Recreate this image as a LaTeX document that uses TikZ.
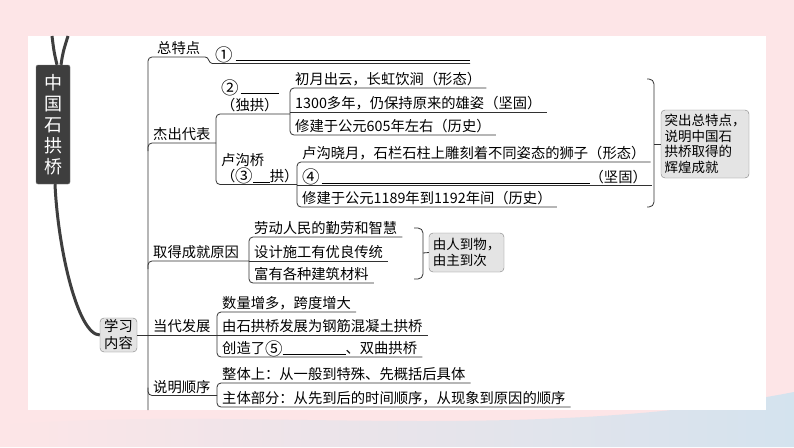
\documentclass[tikz,border=0pt]{standalone}
\usepackage{fontspec}
\usepackage{graphicx}
\setmainfont{Noto Sans CJK SC}
\usetikzlibrary{calc,positioning}
\definecolor{fondrose}{RGB}{253,229,231}
\definecolor{fondbleu}{RGB}{212,227,238}
\definecolor{trait}{RGB}{50,50,50}
\definecolor{gristitre}{RGB}{62,62,62}
\definecolor{grisclair}{RGB}{228,228,228}
\newcommand\trou[1]{\rule[-1pt]{#1}{0.6pt}} % ligne a remplir
\newcommand\rond[1]{\raisebox{-1.2pt}{\scalebox{1.22}{#1}}} % numero cercle

\begin{document}
\begin{tikzpicture}[x=1pt,y=-1pt]
% styles de la carte
\tikzset{liaison/.style={draw=trait,line width=0.8pt},
crochet/.style={liaison,rounded corners=4pt},
tronc/.style={draw=gristitre,line width=3pt},
item/.style={anchor=south west,inner xsep=5pt,inner ysep=0pt,text height=11pt,text depth=3pt,font=\fontsize{14.3}{17}\selectfont},
cadre/.style={draw=gray,fill=grisclair,rounded corners=4pt,align=left,inner sep=3pt,font=\fontsize{13.5}{15.7}\selectfont}}
\useasboundingbox (0,0) rectangle (794,447);

% fond
\fill[fondrose] (0,0) rectangle (794,447);
\shade[left color=fondrose, right color=fondbleu] (0,447) -- (0,425) .. controls (250,405) and (520,445) .. (794,392) -- (794,447) -- cycle;
\fill[white] (28,36) rectangle (766,410);

% titre et tronc
\node[fill=gristitre,draw=gristitre!70,rounded corners=2pt,text=white,align=center,minimum width=34pt,minimum height=119pt,inner sep=0pt,font=\fontsize{18}{21}\selectfont] (titre) at (53,124.5) {中\\国\\石\\拱\\桥};
\node[cadre,align=center,minimum width=37pt,minimum height=34pt,inner sep=1pt,font=\fontsize{14.3}{17}\selectfont] (contenu) at (118.5,335) {学习\\内容};
\coordinate (haut1) at (52,36);
\coordinate (haut2) at (68,36);
\coordinate (dos) at (148,410);
\draw[tronc] (haut1) .. controls (54,52) .. ($(titre.north)+(4,0)$);
\draw[tronc] (haut2) .. controls (63,52) .. ($(titre.north)+(8,0)$);
\draw[tronc] ($(titre.south)+(2,0)$) .. controls (58,250) and (78,335) .. (contenu.west);

%总特点
\node[item] (zong) at (152,57) {总特点};
\node[item] (un) at (210,63) {\rond{①}\hspace{3pt}\trou{234pt}};
\coordinate (unfin) at (470,63.5);
\draw[crochet] (dos) -- (dos |- zong.south) -- (zong.south east);
\draw[liaison] (zong.south east) to[out=0,in=180] ++(7,6.5) -- (unfin);

% 杰出代表
\node[item] (jiechu) at (148,143) {杰出代表};
\node[item] (zz1) at (216,96) {\rond{②}\hspace{2pt}\trou{38pt}};
\node[item] (zz2) at (216,114) {（独拱）};
\node[item] (lg1) at (216,169) {卢沟桥};
\node[item] (lg2) at (216,184.5) {（\rond{③}\trou{17pt}拱）};
\node[item] (a1) at (290,88) {初月出云，长虹饮涧（形态）};
\node[item] (a2) at (290,112) {1300多年，仍保持原来的雄姿（坚固）};
\node[item] (a3) at (290,135) {修建于公元605年左右（历史）};
\node[item] (b1) at (297,162) {卢沟晓月，石栏石柱上雕刻着不同姿态的狮子（形态）};
\node[item] (b2) at (297,185.5) {\rond{④}\hspace{2pt}\trou{268pt}（坚固）};
\node[item] (b3) at (297,207) {修建于公元1189年到1192年间（历史）};
\draw[crochet] (zz2.south west |- jiechu.south) -- (jiechu.south west) -- ++(0,8);
\draw[crochet] (a1.south west |- zz2.south) -- (zz2.south west) -- (lg2.south west) -- (b1.south west |- lg2.south);
\draw[crochet] (a1.south east) -- (a1.south west) -- (a3.south west) -- (a3.south east);
\draw[liaison] (a2.south west) -- (a2.south east);
\draw[crochet] (b1.south east) -- (b1.south west) -- (b3.south west) -- (b3.south east);
\draw[liaison] (b2.south west) -- (b2.south east);
\draw[crochet,rounded corners=5pt] (647,79) -- (654,79) -- (654,207) -- (647,207); % accolade
\coordinate (pointe1) at (654,144);
\node[cadre,minimum width=88pt,minimum height=68pt] (bilan) at (705,144) {突出总特点，\\说明中国石\\拱桥取得的\\辉煌成就};
\draw[liaison] (pointe1) -- (bilan.west);

% 取得成就原因
\node[item] (qd) at (148,261) {取得成就原因};
\node[item] (c1) at (249,237) {劳动人民的勤劳和智慧};
\node[item] (c2) at (249,261) {设计施工有优良传统};
\node[item] (c3) at (249,283) {富有各种建筑材料};
\draw[crochet] (c2.south west) -- (qd.south west) -- ++(0,8);
\draw[crochet] (c1.south east) -- (c1.south west) -- (c3.south west) -- (c3.south east);
\draw[liaison] (c2.south west) -- (c2.south east);
\draw[crochet,rounded corners=5pt] (414,228) -- (423,228) -- (423,279) -- (414,279); % accolade
\coordinate (pointe2) at (423,253);
\node[cadre,minimum width=75pt,minimum height=39pt] (ordre) at (466.5,252.5) {由人到物，\\由主到次};
\draw[liaison] (pointe2) -- (ordre.west);

% 当代发展
\node[item] (dd) at (148,335) {当代发展};
\node[item] (d1) at (217,312) {数量增多，跨度增大};
\node[item] (d2) at (217,335) {由石拱桥发展为钢筋混凝土拱桥};
\node[item] (d3) at (217,357) {创造了\rond{⑤}\trou{63pt}、双曲拱桥};
\draw[liaison] (contenu.east) -- (d2.south west);
\draw[crochet] (d1.south east) -- (d1.south west) -- (d3.south west) -- (d3.south east);
\draw[liaison] (d2.south west) -- (d2.south east);

% 说明顺序
\node[item] (sm) at (148,395.5) {说明顺序};
\node[item] (e1) at (217,383) {整体上：从一般到特殊、先概括后具体};
\node[item] (e2) at (217,407) {主体部分：从先到后的时间顺序，从现象到原因的顺序};
\draw[crochet] ($(sm.south west)+(0,-8)$) -- (sm.south west) -- (e1.south west |- sm.south);
\draw[crochet] (e1.south east) -- (e1.south west) -- (e2.south west) -- (e2.south east);
\end{tikzpicture}
\end{document}
